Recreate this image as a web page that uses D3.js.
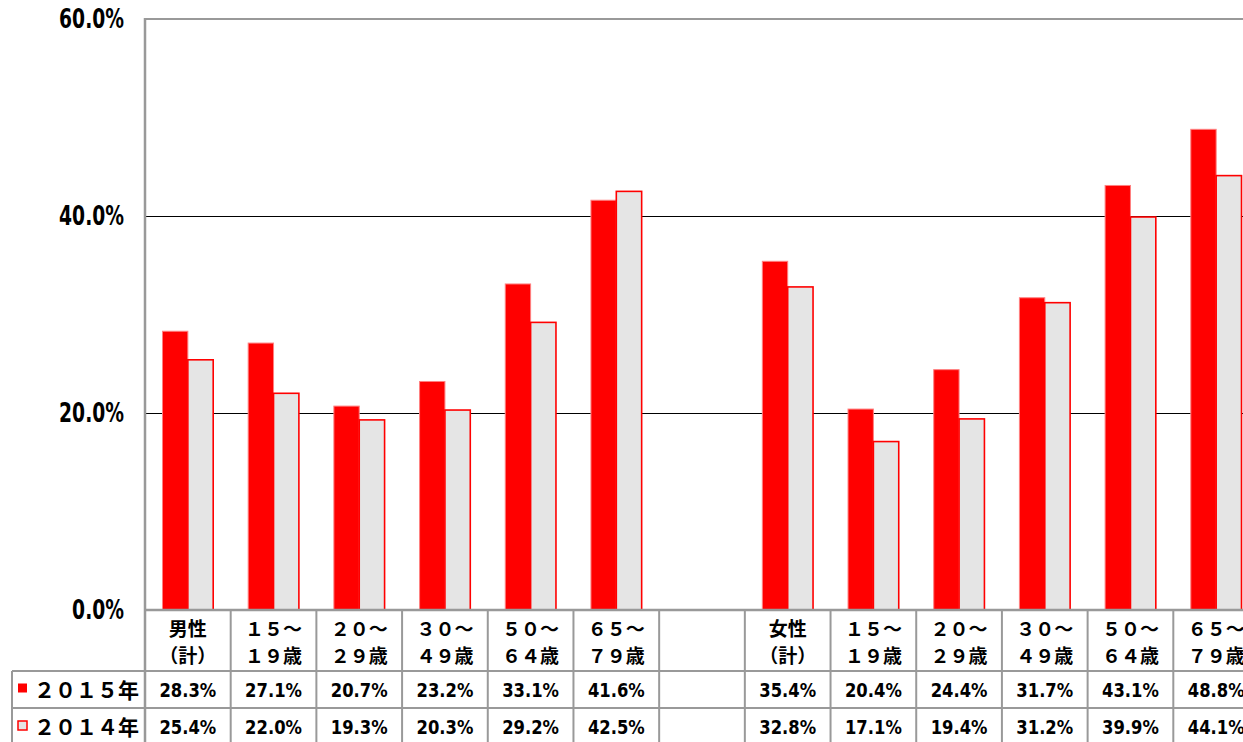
<!DOCTYPE html>
<html>
<head>
<meta charset="utf-8">
<script src="https://cdn.jsdelivr.net/npm/d3@7"></script>
<style>
  body { margin: 0; background: #fff; }
  svg { display: block; }
  .num { font-family: "DejaVu Sans", sans-serif; }
  .jp { font-family: "Noto Sans CJK JP", sans-serif; font-weight: bold; }
</style>
</head>
<body>
<svg width="1243" height="742"></svg>
<script>
// categories (blank slot between male and female groups)
categories = ["男性|（計）", "１５～|１９歳", "２０～|２９歳", "３０～|４９歳", "５０～|６４歳", "６５～|７９歳",
    "",
    "女性|（計）", "１５～|１９歳", "２０～|２９歳", "３０～|４９歳", "５０～|６４歳", "６５～|７９歳"];
seriesNames = ["２０１５年", "２０１４年"];
values2015 = [28.3, 27.1, 20.7, 23.2, 33.1, 41.6, null, 35.4, 20.4, 24.4, 31.7, 43.1, 48.8];
values2014 = [25.4, 22.0, 19.3, 20.3, 29.2, 42.5, null, 32.8, 17.1, 19.4, 31.2, 39.9, 44.1];
yTicks = [0, 20, 40, 60];

svg = d3.select('svg');

left = 145;
right = 1259;
top_ = 19;
bottom = 610;
gridGray = '#999999';

xScale = d3.scaleBand()
    .domain(d3.range(categories.length))
    .range([left, right])
    .padding(0);

subScale = d3.scaleBand()
    .domain([0, 1])
    .range([0, xScale.bandwidth()])
    .paddingInner(0)
    .paddingOuter(0.69);

yScale = d3.scaleLinear()
    .domain([0, 60])
    .range([bottom, top_]);

// gridlines
svg.append('g')
    .selectAll('line')
    .data(yTicks.filter(t => t > 0 && t < 60))
    .enter()
    .append('line')
    .attr('x1', left)
    .attr('x2', right)
    .attr('y1', d => Math.round(yScale(d)) + 0.5)
    .attr('y2', d => Math.round(yScale(d)) + 0.5)
    .attr('stroke', '#000')
    .attr('stroke-width', 1)
    .attr('shape-rendering', 'crispEdges');

// top border
svg.append('line')
    .attr('x1', left).attr('x2', right)
    .attr('y1', yScale(60)).attr('y2', yScale(60))
    .attr('stroke', gridGray).attr('stroke-width', 2);

// y tick labels (condensed look)
svg.append('g')
    .selectAll('text')
    .data(yTicks)
    .enter()
    .append('text')
    .attr('class', 'num')
    .attr('transform', d => `translate(124, ${yScale(d) + 9}) scale(0.72, 1)`)
    .attr('text-anchor', 'end')
    .attr('font-size', 26)
    .attr('font-weight', 'bold')
    .text(d => d3.format('.1f')(d) + '%');

// bars
series = [values2015, values2014];
fills = ['#ff0000', '#e5e5e5'];
strokes = ['#ff8080', '#ff0000'];
series.forEach((vals, s) => {
    svg.append('g')
        .selectAll('rect')
        .data(vals.map((v, i) => ({ i: i, v: v })).filter(d => d.v !== null))
        .enter()
        .append('rect')
        .attr('x', d => xScale(d.i) + subScale(s))
        .attr('y', d => yScale(d.v))
        .attr('width', subScale.bandwidth())
        .attr('height', d => bottom - yScale(d.v))
        .attr('fill', fills[s])
        .attr('stroke', strokes[s])
        .attr('stroke-width', s === 0 ? 1 : 1.6);
});

// left axis line
svg.append('line')
    .attr('x1', left).attr('x2', left)
    .attr('y1', top_ - 1).attr('y2', 742)
    .attr('stroke', gridGray).attr('stroke-width', 2.5);

// table
rowTop = [bottom, 671, 708];
rowBottom = [671, 708, 746];
legendLeft = 12;

table = svg.append('g');

// horizontal table lines
table.append('line')
    .attr('x1', left).attr('x2', right)
    .attr('y1', bottom).attr('y2', bottom)
    .attr('stroke', gridGray).attr('stroke-width', 2.5);
[671, 708].forEach(y => {
    table.append('line')
        .attr('x1', legendLeft).attr('x2', right)
        .attr('y1', y).attr('y2', y)
        .attr('stroke', gridGray).attr('stroke-width', 2);
});
table.append('line')
    .attr('x1', legendLeft).attr('x2', legendLeft)
    .attr('y1', 671).attr('y2', 742)
    .attr('stroke', gridGray).attr('stroke-width', 2);

// vertical table lines
table.selectAll('.vline')
    .data(d3.range(1, categories.length + 1))
    .enter()
    .append('line')
    .attr('class', 'vline')
    .attr('x1', i => left + i * xScale.step())
    .attr('x2', i => left + i * xScale.step())
    .attr('y1', bottom)
    .attr('y2', 742)
    .attr('stroke', gridGray)
    .attr('stroke-width', 2);

// header labels
header = table.selectAll('.hdr')
    .data(categories.map((c, i) => ({ c: c, i: i })).filter(d => d.c !== ''))
    .enter()
    .append('text')
    .attr('class', 'jp')
    .attr('text-anchor', 'middle')
    .attr('font-size', 19)
    .attr('fill', '#000');
header.append('tspan')
    .attr('x', d => xScale(d.i) + xScale.bandwidth() / 2)
    .attr('y', 636)
    .text(d => d.c.split('|')[0]);
header.append('tspan')
    .attr('x', d => xScale(d.i) + xScale.bandwidth() / 2)
    .attr('y', 663)
    .text(d => d.c.split('|')[1]);

// values rows
series.forEach((vals, s) => {
    cy = (rowTop[s + 1] + rowBottom[s + 1]) / 2;
    table.append('g')
        .selectAll('text')
        .data(vals.map((v, i) => ({ i: i, v: v })).filter(d => d.v !== null))
        .enter()
        .append('text')
        .attr('class', 'num')
        .attr('transform', d => `translate(${xScale(d.i) + xScale.bandwidth() / 2}, ${cy + 7}) scale(0.82, 1)`)
        .attr('text-anchor', 'middle')
        .attr('font-size', 20)
        .attr('font-weight', 600)
        .text(d => d.v.toFixed(1) + '%');

    // legend key + name
    table.append('rect')
        .attr('x', 18)
        .attr('y', cy - 6)
        .attr('width', 9)
        .attr('height', 9)
        .attr('fill', fills[s])
        .attr('stroke', '#ff0000')
        .attr('stroke-width', s === 0 ? 0 : 1.5);
    table.append('text')
        .attr('class', 'jp')
        .attr('x', 34)
        .attr('y', cy + 8)
        .attr('font-size', 21)
        .text(seriesNames[s]);
});
</script>
</body>
</html>
